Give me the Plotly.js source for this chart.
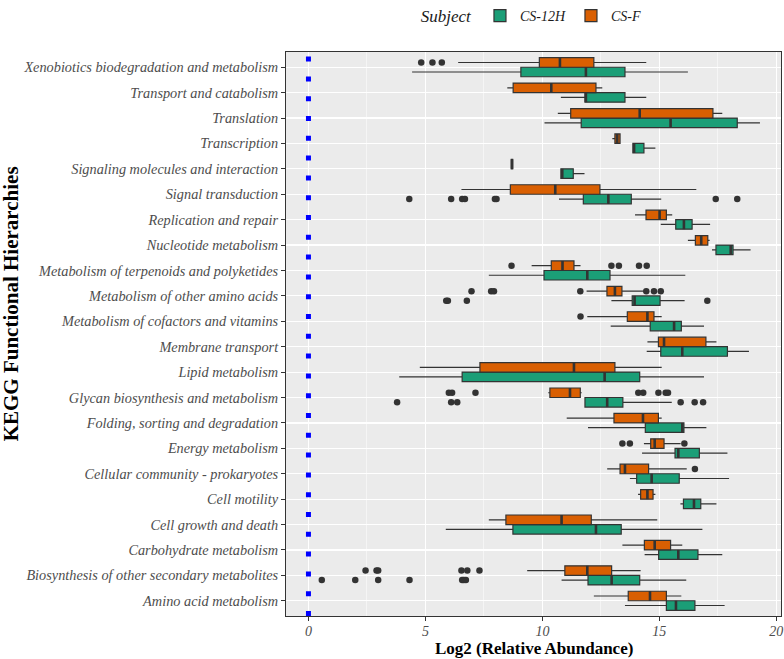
<!DOCTYPE html>
<html>
<head>
<meta charset="utf-8">
<script src="https://cdn.plot.ly/plotly-3.0.1.min.js"></script>
<style>html,body{margin:0;padding:0;background:#fff;}#chart{width:784px;height:659px;}</style>
</head>
<body>
<div id="chart"></div>
<script>
// Categories, top to bottom as shown
var categories = [
  "Xenobiotics biodegradation and metabolism",
  "Transport and catabolism",
  "Translation",
  "Transcription",
  "Signaling molecules and interaction",
  "Signal transduction",
  "Replication and repair",
  "Nucleotide metabolism",
  "Metabolism of terpenoids and polyketides",
  "Metabolism of other amino acids",
  "Metabolism of cofactors and vitamins",
  "Membrane transport",
  "Lipid metabolism",
  "Glycan biosynthesis and metabolism",
  "Folding, sorting and degradation",
  "Energy metabolism",
  "Cellular community - prokaryotes",
  "Cell motility",
  "Cell growth and death",
  "Carbohydrate metabolism",
  "Biosynthesis of other secondary metabolites",
  "Amino acid metabolism"
];

// CS-F (orange)
var csF_lower  = [6.40, 8.50, 10.66, 12.99, 8.66, 6.54, 13.96, 16.22, 9.54, 11.89, 11.92, 14.49, 4.76, 10.25, 11.04, 14.34, 12.77, 14.09, 7.71, 13.42, 9.35, 12.20];
var csF_q1     = [9.87, 8.75, 11.21, 13.10, 8.67, 8.63, 14.43, 16.54, 10.38, 12.76, 13.63, 14.96, 7.33, 10.32, 13.06, 14.63, 13.32, 14.20, 8.44, 14.36, 10.96, 13.67];
var csF_median = [10.75, 10.38, 14.16, 13.20, 8.70, 10.55, 15.01, 16.79, 10.86, 13.10, 14.49, 15.20, 11.35, 11.18, 14.30, 14.80, 13.53, 14.49, 10.82, 14.80, 11.92, 14.60];
var csF_q3     = [12.20, 12.29, 17.29, 13.32, 8.73, 12.46, 15.30, 17.07, 11.35, 13.40, 14.77, 16.99, 13.10, 11.62, 14.96, 15.20, 14.54, 14.73, 12.09, 15.48, 12.96, 15.30];
var csF_upper  = [14.44, 12.56, 17.69, 13.34, 8.74, 16.58, 15.55, 17.15, 11.63, 14.34, 15.10, 17.44, 15.10, 11.68, 15.10, 15.91, 16.17, 14.83, 14.91, 15.98, 14.20, 15.94];

// CS-12H (green)
var cs12_lower  = [4.43, 10.79, 10.09, 13.87, 10.79, 10.71, 15.06, 17.25, 7.71, 12.95, 12.92, 14.46, 3.88, 11.80, 11.95, 14.26, 13.74, 15.90, 5.87, 14.37, 10.82, 13.53];
var cs12_q1     = [9.08, 11.82, 11.66, 13.87, 10.79, 11.75, 15.70, 17.42, 10.07, 13.84, 14.61, 15.06, 6.57, 11.82, 14.40, 15.67, 14.03, 16.03, 8.74, 14.97, 11.95, 15.30];
var cs12_median = [11.86, 11.86, 15.48, 13.92, 10.85, 12.82, 16.05, 18.05, 11.92, 13.94, 15.63, 15.98, 12.66, 12.77, 15.98, 15.81, 14.67, 16.48, 12.29, 15.81, 12.96, 15.71];
var cs12_q3     = [13.53, 13.53, 18.33, 14.34, 11.32, 13.80, 16.40, 18.15, 12.89, 15.03, 15.94, 17.91, 14.16, 13.44, 16.05, 16.71, 15.85, 16.77, 13.37, 16.65, 14.16, 16.52];
var cs12_upper  = [16.22, 14.44, 19.30, 14.83, 11.80, 15.08, 17.17, 18.90, 16.11, 16.08, 16.91, 18.83, 16.91, 15.53, 17.01, 17.91, 17.98, 17.44, 16.84, 17.69, 16.15, 17.79];

// Outliers
var csF_outCat = [
  "Xenobiotics biodegradation and metabolism","Xenobiotics biodegradation and metabolism","Xenobiotics biodegradation and metabolism",
  "Metabolism of terpenoids and polyketides","Metabolism of terpenoids and polyketides","Metabolism of terpenoids and polyketides","Metabolism of terpenoids and polyketides","Metabolism of terpenoids and polyketides",
  "Metabolism of other amino acids","Metabolism of other amino acids","Metabolism of other amino acids","Metabolism of other amino acids","Metabolism of other amino acids","Metabolism of other amino acids","Metabolism of other amino acids",
  "Metabolism of cofactors and vitamins",
  "Glycan biosynthesis and metabolism","Glycan biosynthesis and metabolism","Glycan biosynthesis and metabolism","Glycan biosynthesis and metabolism","Glycan biosynthesis and metabolism","Glycan biosynthesis and metabolism","Glycan biosynthesis and metabolism","Glycan biosynthesis and metabolism",
  "Energy metabolism","Energy metabolism","Energy metabolism",
  "Cellular community - prokaryotes",
  "Biosynthesis of other secondary metabolites","Biosynthesis of other secondary metabolites","Biosynthesis of other secondary metabolites","Biosynthesis of other secondary metabolites","Biosynthesis of other secondary metabolites","Biosynthesis of other secondary metabolites"
];
var csF_outVal = [
  4.82, 5.30, 5.70,
  8.68, 12.95, 13.27, 14.13, 14.46,
  6.97, 7.81, 7.93, 11.62, 14.44, 14.77, 15.06,
  11.63,
  6.00, 6.14, 7.14, 14.10, 14.31, 14.96, 15.27, 15.37,
  13.42, 13.74, 16.07,
  16.52,
  2.44, 2.91, 2.98, 6.54, 6.79, 7.31
];
var cs12_outCat = [
  "Signal transduction","Signal transduction","Signal transduction","Signal transduction","Signal transduction","Signal transduction","Signal transduction","Signal transduction",
  "Metabolism of other amino acids","Metabolism of other amino acids","Metabolism of other amino acids","Metabolism of other amino acids",
  "Glycan biosynthesis and metabolism","Glycan biosynthesis and metabolism","Glycan biosynthesis and metabolism","Glycan biosynthesis and metabolism","Glycan biosynthesis and metabolism","Glycan biosynthesis and metabolism",
  "Biosynthesis of other secondary metabolites","Biosynthesis of other secondary metabolites","Biosynthesis of other secondary metabolites","Biosynthesis of other secondary metabolites","Biosynthesis of other secondary metabolites","Biosynthesis of other secondary metabolites","Biosynthesis of other secondary metabolites"
];
var cs12_outVal = [
  4.31, 6.10, 6.57, 6.69, 7.97, 8.04, 17.41, 18.33,
  5.89, 5.96, 6.77, 17.05,
  3.79, 6.10, 6.36, 15.91, 16.51, 16.87,
  0.57, 2.00, 2.98, 4.32, 6.57, 6.64, 6.73
];

var seriesNames = ["CS-12H", "CS-F"];
var xTicks = [0, 5, 10, 15, 20];

// ---- build ----
var N = categories.length;
function catPos(c) { return N - categories.indexOf(c); }
var positions = categories.map(function (c) { return catPos(c); });
var OFF = 0.1875, BW = 0.375;
var FONT = "Liberation Serif, 'Times New Roman', serif";
var green = "#1B9E77", orange = "#D95F02", edge = "#333333";

function boxTrace(name, color, off, lo, q1, med, q3, up) {
  return {
    type: "box", orientation: "h", name: name,
    y: positions.map(function (p) { return p + off; }),
    lowerfence: lo, q1: q1, median: med, q3: q3, upperfence: up,
    width: BW, whiskerwidth: 0, boxpoints: false,
    fillcolor: color, line: { color: edge, width: 1.2 },
    hoverinfo: "x"
  };
}
function medianTrace(off, med) {
  var xs = [], ys = [];
  for (var i = 0; i < N; i++) {
    xs.push(med[i], med[i], null);
    ys.push(positions[i] + off - BW / 2, positions[i] + off + BW / 2, null);
  }
  return { type: "scatter", mode: "lines", x: xs, y: ys, showlegend: false,
    line: { color: edge, width: 2.6 }, hoverinfo: "skip" };
}
function outlierTrace(off, cats, vals) {
  return { type: "scatter", mode: "markers", showlegend: false,
    x: vals, y: cats.map(function (c) { return catPos(c) + off; }),
    marker: { color: edge, size: 6.5 }, hoverinfo: "x" };
}

var data = [
  boxTrace(seriesNames[0], green, -OFF, cs12_lower, cs12_q1, cs12_median, cs12_q3, cs12_upper),
  boxTrace(seriesNames[1], orange, OFF, csF_lower, csF_q1, csF_median, csF_q3, csF_upper),
  medianTrace(-OFF, cs12_median),
  medianTrace(OFF, csF_median),
  outlierTrace(-OFF, cs12_outCat, cs12_outVal),
  outlierTrace(OFF, csF_outCat, csF_outVal)
];

var layout = {
  width: 784, height: 659,
  margin: { l: 286, r: 3, t: 52, b: 43 },
  paper_bgcolor: "#ffffff", plot_bgcolor: "#EBEBEB",
  font: { family: FONT, color: "#4D4D4D" },
  boxmode: "overlay",
  showlegend: true,
  legend: {
    orientation: "h", xref: "container", yref: "container",
    x: 0.534, xanchor: "left", y: 1.0, yanchor: "top",
    font: { family: FONT, size: 14, color: "#1a1a1a", style: "italic" },
    title: { text: "Subject", side: "left", font: { family: FONT, size: 17, color: "#1a1a1a", style: "italic" } },
    bgcolor: "rgba(0,0,0,0)"
  },
  xaxis: {
    range: [-0.96, 20.2],
    tickmode: "array", tickvals: xTicks, ticktext: xTicks.map(String),
    tickfont: { family: FONT, size: 14, color: "#4D4D4D", style: "italic" },
    ticks: "outside", ticklen: 4, tickwidth: 1, tickcolor: edge,
    ticklabelstandoff: -2,
    showgrid: true, gridcolor: "#ffffff", gridwidth: 1.2,
    minor: { dtick: 2.5, tick0: 0, showgrid: true, gridcolor: "#ffffff", gridwidth: 0.5 },
    zeroline: false,
    showline: true, mirror: true, linecolor: edge, linewidth: 1,
    title: { text: "" }
  },
  yaxis: {
    range: [0.4, N + 0.6],
    tickmode: "array", tickvals: positions, ticktext: categories,
    tickfont: { family: FONT, size: 14.3, color: "#4D4D4D", style: "italic" },
    ticks: "outside", ticklen: 4, tickwidth: 1, tickcolor: edge,
    showgrid: true, gridcolor: "#ffffff", gridwidth: 1.2,
    zeroline: false,
    showline: true, mirror: true, linecolor: edge, linewidth: 1,
    title: { text: "" }
  },
  annotations: [{
    text: "KEGG Functional Hierarchies", textangle: -90, showarrow: false,
    xref: "paper", yref: "paper", x: -0.556, y: 0.554, xanchor: "center", yanchor: "middle",
    font: { family: FONT, size: 21, color: "#000000", weight: "bold" }
  }, {
    text: "Log2 (Relative Abundance)", showarrow: false,
    xref: "paper", yref: "paper", x: 0.5, y: -0.058, xanchor: "center", yanchor: "middle",
    font: { family: FONT, size: 17, color: "#000000", weight: "bold" }
  }],
  shapes: [{
    type: "line", xref: "x", yref: "paper", x0: 0, x1: 0, y0: 0, y1: 1,
    line: { color: "#0000FF", width: 5, dash: "5px,14.8px" }, layer: "above"
  }]
};

Plotly.newPlot("chart", data, layout, { displayModeBar: false, staticPlot: true });
</script>
</body>
</html>
